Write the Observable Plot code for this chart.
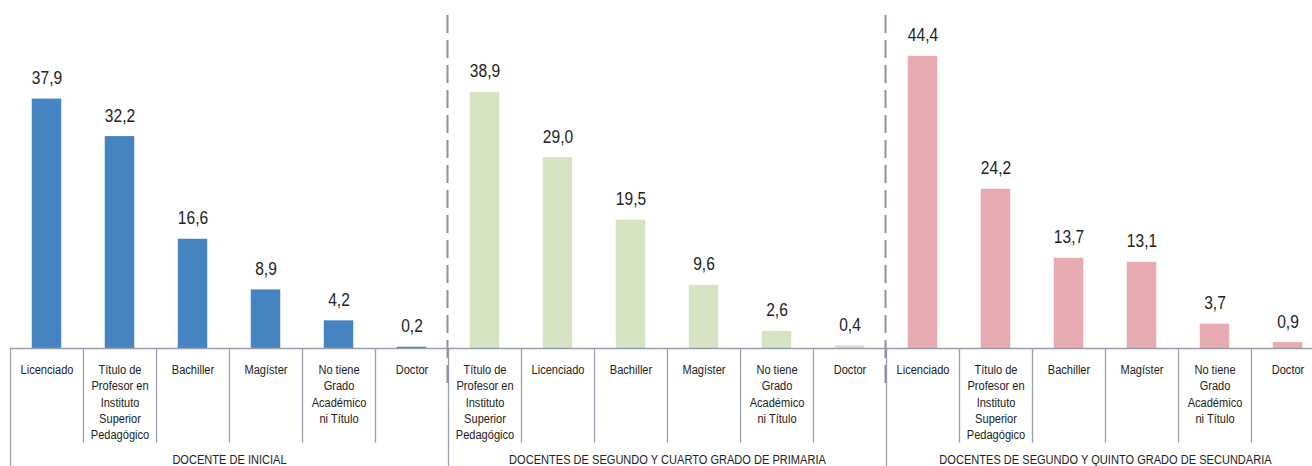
<!DOCTYPE html>
<html><head><meta charset="utf-8">
<script src="https://cdn.jsdelivr.net/npm/d3@7"></script>
<script src="https://cdn.jsdelivr.net/npm/@observablehq/plot@0.6"></script>
<style>
html,body{margin:0;padding:0;background:#fff;overflow:hidden}
svg{display:block}
</style></head><body><div id="chart"></div>
<script>
const groups = ["DOCENTE DE INICIAL", "DOCENTES DE SEGUNDO Y CUARTO GRADO DE PRIMARIA", "DOCENTES DE SEGUNDO Y QUINTO GRADO DE SECUNDARIA"];
const catsInicial = ["Licenciado", "Título de\nProfesor en\nInstituto\nSuperior\nPedagógico", "Bachiller", "Magíster", "No tiene\nGrado\nAcadémico\nni Título", "Doctor"];
const valsInicial = [37.9, 32.2, 16.6, 8.9, 4.2, 0.2];
const catsPrimaria = ["Título de\nProfesor en\nInstituto\nSuperior\nPedagógico", "Licenciado", "Bachiller", "Magíster", "No tiene\nGrado\nAcadémico\nni Título", "Doctor"];
const valsPrimaria = [38.9, 29.0, 19.5, 9.6, 2.6, 0.4];
const catsSecundaria = ["Licenciado", "Título de\nProfesor en\nInstituto\nSuperior\nPedagógico", "Bachiller", "Magíster", "No tiene\nGrado\nAcadémico\nni Título", "Doctor"];
const valsSecundaria = [44.4, 24.2, 13.7, 13.1, 3.7, 0.9];
const colors = ["#4584c1", "#d6e4c3", "#e7abb1"];

const cats = [catsInicial, catsPrimaria, catsSecundaria];
const vals = [valsInicial, valsPrimaria, valsSecundaria];
const n = catsInicial.length;
const rows = [];
groups.forEach((g, gi) => cats[gi].forEach((c, ci) => rows.push({group: g, cat: c, value: vals[gi][ci], pos: gi * n + ci})));

const lineColor = "#9a9dab";
const font = "'Liberation Sans',Arial,sans-serif";
const fmt = v => d3.format(".1f")(v).replace(".", ",");

const chart = Plot.plot({
  width: 1312,
  height: 466,
  marginTop: 15,
  marginBottom: 78,
  marginLeft: 10,
  marginRight: 0,
  style: {fontFamily: font, background: "#fff"},
  x: {type: "linear", domain: [0, groups.length * n], range: [10, 1324], axis: null},
  y: {domain: [0, 50.6], range: [348, 15], axis: null},
  color: {domain: groups, range: colors},
  marks: [
    Plot.rectY(rows, {x1: d => d.pos + 0.298, x2: d => d.pos + 0.702, y: "value", fill: "group"}),
    Plot.text(rows, {x: d => d.pos + 0.5, y: "value", text: d => fmt(d.value), lineAnchor: "bottom", dy: -15, fontSize: 19, fill: "#222"}),
    Plot.ruleY([0], {stroke: lineColor, strokeWidth: 1.3}),
    Plot.ruleX(d3.range(groups.length * n + 1).filter(i => i % n !== 0), {x: d => d, y1: () => 0, y2: () => -14.4, stroke: lineColor, strokeWidth: 1.3}),
    Plot.ruleX(d3.range(groups.length + 1).map(i => i * n), {x: d => d, y1: () => 0, y2: () => -20, stroke: lineColor, strokeWidth: 1.3}),
    Plot.ruleX(d3.range(1, groups.length).map(i => i * n), {x: d => d, dx: -1, stroke: "#8d90a3", strokeWidth: 2, strokeDasharray: "18,7"}),
    Plot.text(rows, {x: d => d.pos + 0.5, y: () => 0, text: "cat", lineAnchor: "top", dy: 13.7, lineHeight: 1.215, fontSize: 13.5, fill: "#222"}),
    Plot.text(groups, {x: (d, i) => i * n + n / 2, y: () => 0, text: d => d, lineAnchor: "bottom", dy: 115.5, fontSize: 13.5, fill: "#222"})
  ]
});
// narrow the text horizontally (the reference uses a condensed face)
chart.querySelectorAll("text").forEach(t => {
  const xa = t.getAttribute("x");
  const tx = xa !== null && /^-?[\d.]+$/.test(xa.trim()) ? +xa : 0;
  const tr = t.getAttribute("transform") || "";
  t.setAttribute("transform", `${tr} translate(${tx},0) scale(0.82,1) translate(${-tx},0)`);
});
document.getElementById("chart").append(chart);
</script>
</body></html>
